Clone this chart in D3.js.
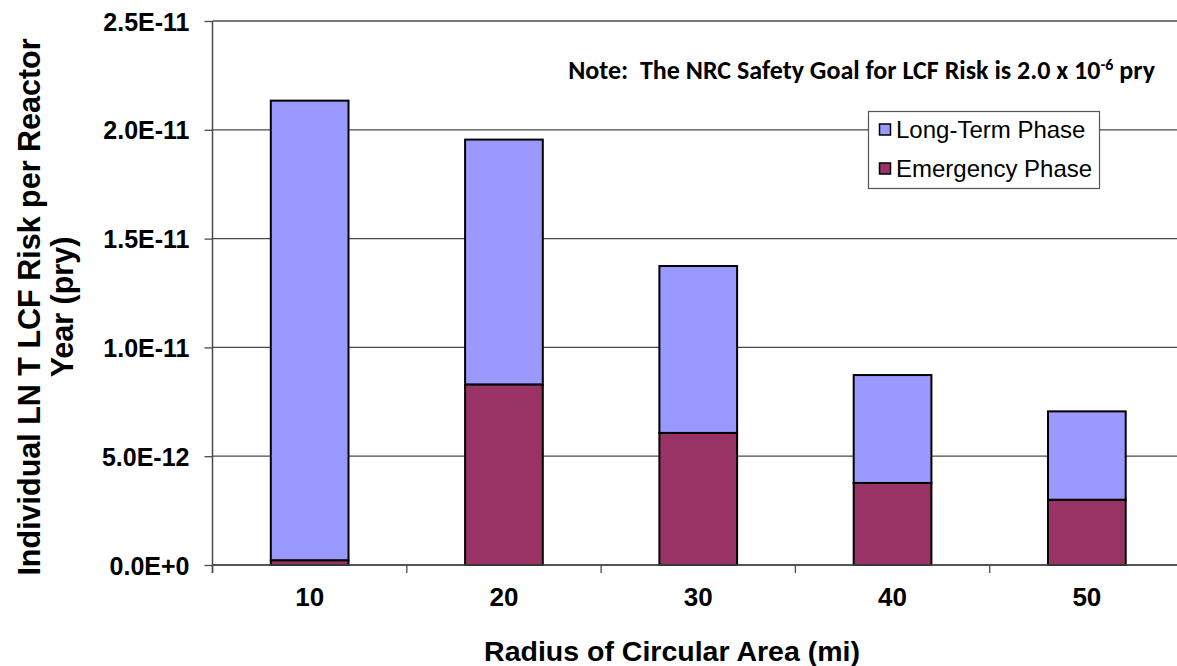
<!DOCTYPE html>
<html>
<head>
<meta charset="utf-8">
<script src="https://cdn.jsdelivr.net/npm/d3@7/dist/d3.min.js"></script>
<style>
  html, body { margin: 0; padding: 0; background: #fff; }
  svg { display: block; }
</style>
</head>
<body>
<svg id="chart" width="1177" height="666"></svg>
<script>
// ---- data ----
const categories = ["10", "20", "30", "40", "50"];
const emergencyPhase = [0.22e-12, 8.30e-12, 6.07e-12, 3.77e-12, 3.00e-12];
const longTermPhase = [21.12e-12, 11.25e-12, 7.67e-12, 4.96e-12, 4.06e-12];
const yTicks = [0, 5e-12, 1e-11, 1.5e-11, 2e-11, 2.5e-11];
const yTickLabels = ["0.0E+0", "5.0E-12", "1.0E-11", "1.5E-11", "2.0E-11", "2.5E-11"];
const seriesNames = ["Long-Term Phase", "Emergency Phase"];
const seriesColors = ["#9999FF", "#993366"];

(function () {
const svg = d3.select("#chart");
const pLeft = 212.5, pTop = 21, pBottom = 565, catW = 194.3;
const pRight = pLeft + catW * categories.length;
const arial = "'Liberation Sans', Arial, sans-serif";

const x = d3.scaleBand().domain(categories).range([pLeft, pRight]).paddingInner(0.6).paddingOuter(0.3);
const y = d3.scaleLinear().domain([0, 2.5e-11]).range([pBottom, pTop]);

// gridlines
svg.append("g").selectAll("line").data(yTicks).join("line")
  .attr("x1", pLeft).attr("x2", pRight)
  .attr("y1", d => y(d)).attr("y2", d => y(d))
  .attr("stroke", "#4a4a4a").attr("stroke-width", 1.3);

// stacked bars
const rows = categories.map((c, i) => ({ cat: c, em: emergencyPhase[i], lt: longTermPhase[i] }));
const stack = d3.stack().keys(["em", "lt"])(rows);
const colorByKey = { em: seriesColors[1], lt: seriesColors[0] };
svg.append("g").selectAll("g").data(stack).join("g")
  .attr("fill", d => colorByKey[d.key])
  .selectAll("rect").data(d => d).join("rect")
  .attr("x", d => x(d.data.cat))
  .attr("width", x.bandwidth())
  .attr("y", d => y(d[1]))
  .attr("height", d => y(d[0]) - y(d[1]))
  .attr("stroke", "#000").attr("stroke-width", 2);

// y axis
const yAxis = d3.axisLeft(y).tickValues(yTicks).tickFormat((d, i) => yTickLabels[i]).tickSize(8).tickPadding(15);
const gy = svg.append("g").attr("transform", `translate(${pLeft},0)`).call(yAxis);
gy.select(".domain").attr("stroke", "#4a4a4a").attr("stroke-width", 1.5).attr("d", `M0,${pTop}V${pBottom + 8}`);
gy.selectAll(".tick line").attr("stroke", "#4a4a4a").attr("stroke-width", 1.3);
gy.selectAll(".tick text").attr("font-family", arial)
  .attr("font-weight", "bold").attr("font-size", 25).attr("fill", "#000").attr("dy", "0.36em");

// x axis: ticks at category boundaries
const boundaries = d3.range(categories.length + 1).map(i => pLeft + i * catW);
svg.append("g").selectAll("line").data(boundaries).join("line")
  .attr("x1", d => d).attr("x2", d => d).attr("y1", pBottom).attr("y2", pBottom + 8)
  .attr("stroke", "#4a4a4a").attr("stroke-width", 1.3);
svg.append("line").attr("x1", pLeft).attr("x2", pRight).attr("y1", pBottom).attr("y2", pBottom)
  .attr("stroke", "#4a4a4a").attr("stroke-width", 1.5);
svg.append("g").selectAll("text").data(categories).join("text")
  .attr("x", d => x(d) + x.bandwidth() / 2).attr("y", 606)
  .attr("text-anchor", "middle")
  .attr("font-family", arial)
  .attr("font-weight", "bold").attr("font-size", 26).text(d => d);

// axis titles
svg.append("text").attr("x", 672).attr("y", 661).attr("text-anchor", "middle")
  .attr("font-family", arial)
  .attr("font-weight", "bold").attr("font-size", 28.5).text("Radius of Circular Area (mi)");

const yt = svg.append("g").attr("transform", "translate(0,307) rotate(-90)");
yt.append("text").attr("x", 0).attr("y", 40).attr("text-anchor", "middle")
  .attr("font-family", arial)
  .attr("font-weight", "bold").attr("font-size", 30.5).text("Individual LN T LCF Risk per Reactor");
yt.append("text").attr("x", 0).attr("y", 73).attr("text-anchor", "middle")
  .attr("font-family", arial)
  .attr("font-weight", "bold").attr("font-size", 30.5).text("Year (pry)");

// note
const note = svg.append("text").attr("x", 1155).attr("y", 79).attr("text-anchor", "end")
  .attr("font-family", "Carlito, Calibri, Lato, sans-serif").attr("font-weight", "bold")
  .attr("font-size", 21).attr("fill", "#000").attr("xml:space", "preserve");
note.append("tspan").text("Note:  The NRC Safety Goal for LCF Risk is 2.0 x 10");
note.append("tspan").attr("font-size", 13).attr("dy", -9).text("-6");
note.append("tspan").attr("dy", 9).text(" pry");
const nw = note.node().getComputedTextLength();
const s = 587 / nw;
note.attr("font-size", 21 * s);
note.selectAll("tspan").filter((d, i) => i === 1).attr("font-size", 13 * s);

// legend
const lg = svg.append("g");
lg.append("rect").attr("x", 868.5).attr("y", 111.5).attr("width", 231).attr("height", 77)
  .attr("fill", "#fff").attr("stroke", "#555").attr("stroke-width", 1.2);
seriesNames.forEach((name, i) => {
  const cy = 129.5 + i * 39;
  lg.append("rect").attr("x", 879.5).attr("y", cy - 5.5).attr("width", 11).attr("height", 11)
    .attr("fill", seriesColors[i]).attr("stroke", "#000").attr("stroke-width", 1.5);
  lg.append("text").attr("x", 896).attr("y", cy).attr("dy", "0.36em")
    .attr("font-family", arial).attr("font-size", 24)
    .text(name);
});
})();
</script>
</body>
</html>
